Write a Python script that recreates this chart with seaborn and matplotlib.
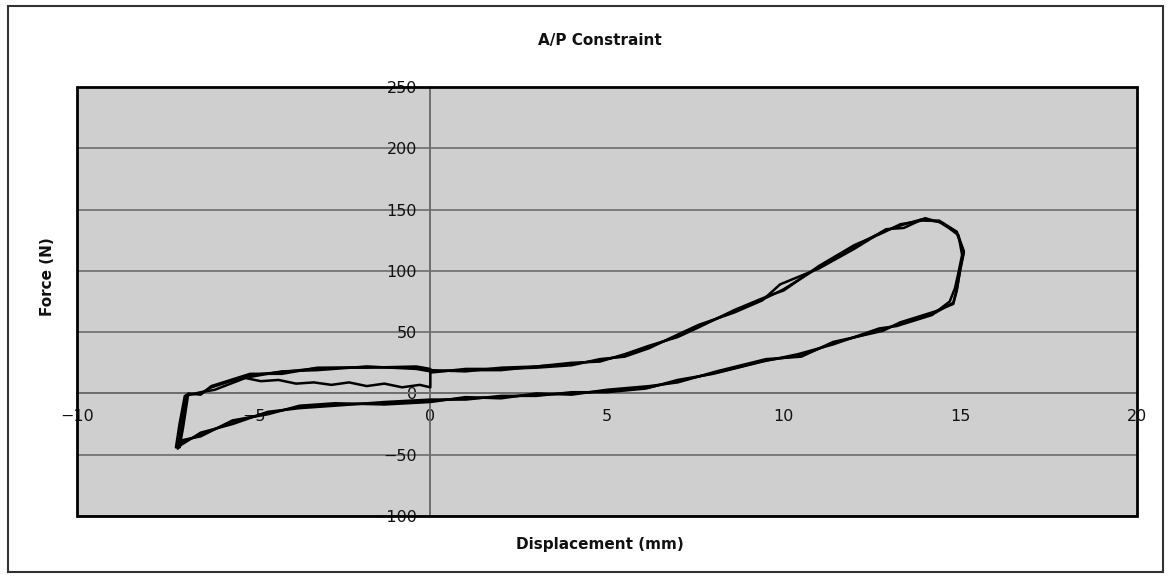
import matplotlib
matplotlib.use("Agg")
import matplotlib.pyplot as plt
import seaborn as sns
from matplotlib.patches import Rectangle

# Force / displacement readings, three load cycles
cycle1_x = [0, 1, 2, 3, 4, 4.8, 5.5, 6.2, 7.0, 7.6, 8.6, 9.5, 10.0, 11.0, 12.0, 12.8, 13.3, 13.9, 14.4, 14.9,
            15.1, 15.0, 14.9, 14.8, 14.3, 13.3, 12.8, 11.4, 10.5, 9.5, 8.1, 7.0, 6.2, 5.0, 4.0, 3.0, 2.0, 1.0,
            0, -1.3, -2.7, -3.7, -4.6, -5.6, -6.5, -7.0, -7.15, -7.05, -6.9, -6.5, -6.2, -5.1, -4.2, -3.2, -1.8, -0.4, 0]
cycle1_y = [18, 19, 19, 22, 24, 27, 31, 38, 47, 55, 67, 78, 85, 103, 120, 132, 137, 142, 140, 131,
            115, 101, 85, 74, 66, 57, 52, 41, 31, 27, 17, 10, 5, 2, 0, -1, -3, -4,
            -6, -8, -9, -11, -16, -23, -34, -39, -45, -27, -1, 0, 5, 15, 17.5, 20.5, 21.5, 21, 19]

cycle2_x = [0, 1, 2, 3, 4, 4.8, 5.5, 6.2, 7.0, 7.6, 8.6, 9.4, 9.9, 11.0, 12.0, 12.9, 13.4, 14.0, 14.5, 14.95,
            15.05, 14.95, 14.85, 14.7, 14.2, 13.2, 12.7, 11.4, 10.4, 9.4, 8.0, 7.0, 6.1, 5.0, 4.0, 3.0, 2.0, 1.0,
            0, -1.3, -2.7, -3.7, -4.6, -5.6, -6.5, -7.0, -7.2, -7.1, -6.95, -6.5, -6.1, -5.2, -4.2, -3.2, -1.8, -0.4, 0]
cycle2_y = [17, 20, 20, 21, 23, 28, 30, 37, 48, 56, 66, 76, 89, 102, 118, 134, 135, 143, 139, 129,
            113, 99, 86, 75, 64, 55, 53, 40, 32, 26, 16, 11, 4, 1, 1, -2, -2, -5,
            -5, -7, -10, -12, -15, -25, -32, -41, -44, -25, -2, 1, 3, 13, 18, 19, 22, 20, 18]

cycle3_x = [0, 1, 2, 3, 4, 4.8, 5.5, 6.2, 7.0, 7.6, 8.6, 9.6, 10.0, 11.0, 12.0, 12.8, 13.3, 13.9, 14.4, 14.9,
            15.1, 15.0, 14.9, 14.8, 14.3, 13.3, 12.8, 11.4, 10.5, 9.5, 8.1, 7.0, 6.2, 5.0, 4.0, 3.0, 2.0, 1.0,
            0, -1.3, -2.7, -3.7, -4.6, -5.6, -6.5, -7.0, -7.1, -7.0, -6.85, -6.5, -6.2, -5.1, -4.2, -3.2, -1.8, -0.4, 0]
cycle3_y = [19, 18, 21, 22, 25, 26, 32, 39, 46, 54, 68, 80, 84, 104, 121, 131, 138, 141, 141, 132,
            116, 102, 84, 73, 67, 58, 51, 42, 30, 28, 18, 9, 6, 3, -1, 0, -4, -3,
            -7, -9, -8, -10, -17, -22, -35, -38, -44, -28, 0, -1, 6, 16, 16, 21, 21, 22, 20]

# first pass (wavy trace to the left of the origin)
start_x = [0, 0, -0.3, -0.8, -1.3, -1.8, -2.3, -2.8, -3.3, -3.8, -4.3, -4.8, -5.3]
start_y = [18, 5, 7, 5, 8, 6, 9, 7, 9, 8, 11, 10, 13]

x_ticks = [-10, -5, 0, 5, 10, 15, 20]
y_ticks = [-100, -50, 0, 50, 100, 150, 200, 250]

sns.set_style("white")
plt.rcParams["font.family"] = ["DejaVu Sans"]
plt.rcParams["text.color"] = "#111111"
plt.rcParams["xtick.labelcolor"] = "#111111"
plt.rcParams["ytick.labelcolor"] = "#111111"

fig = plt.figure(figsize=(11.69, 5.77), dpi=100)
ax = fig.add_axes([0.0659, 0.1057, 0.9067, 0.7435])
ax.set_facecolor("#cfcfcf")

for cx, cy in [(cycle1_x, cycle1_y), (cycle2_x, cycle2_y), (cycle3_x, cycle3_y), (start_x, start_y)]:
    sns.lineplot(x=cx, y=cy, sort=False, estimator=None, color="black", lw=1.8, ax=ax, zorder=5)

ax.set_xlim(-10, 20)
ax.set_ylim(-100, 250)
ax.set_xticks(x_ticks)
ax.set_yticks(y_ticks)
ax.set_xticklabels([str(v).replace("-", "\u2212") for v in x_ticks])
ax.set_yticklabels([str(v).replace("-", "\u2212") for v in y_ticks])

# horizontal gridlines only
ax.yaxis.grid(True, color="#7a7a7a", lw=1.4)
ax.xaxis.grid(False)
ax.set_axisbelow(True)

# axes cross at the origin, Excel style
for side in ["left", "bottom"]:
    ax.spines[side].set_position(("data", 0))
    ax.spines[side].set_color("#6e6e6e")
    ax.spines[side].set_linewidth(1.4)
    ax.spines[side].set_zorder(2)
for side in ["top", "right"]:
    ax.spines[side].set_visible(False)

ax.tick_params(axis="x", direction="out", length=3.5, width=1, color="#6e6e6e",
               labelsize=11.5, pad=8)
ax.tick_params(axis="y", direction="out", length=3.5, width=1, color="#6e6e6e",
               labelsize=11.5, pad=6)

# plot-area border
ax.add_patch(Rectangle((0, 0), 1, 1, transform=ax.transAxes, fill=False,
                       ec="black", lw=2, clip_on=False, zorder=10))

fig.text(0.513, 0.93, "A/P Constraint", ha="center", va="center", fontsize=11, fontweight="bold")
fig.text(0.513, 0.057, "Displacement (mm)", ha="center", va="center", fontsize=11, fontweight="bold")
fig.text(0.041, 0.52, "Force (N)", ha="center", va="center", rotation=90, fontsize=11, fontweight="bold")

# outer chart border
fig.patches.append(Rectangle((8 / 1169, 1 - 572 / 577), 1155 / 1169, 566 / 577,
                             transform=fig.transFigure, fill=False, ec="#333333", lw=1.5))

fig.savefig("out.png", dpi=100)
